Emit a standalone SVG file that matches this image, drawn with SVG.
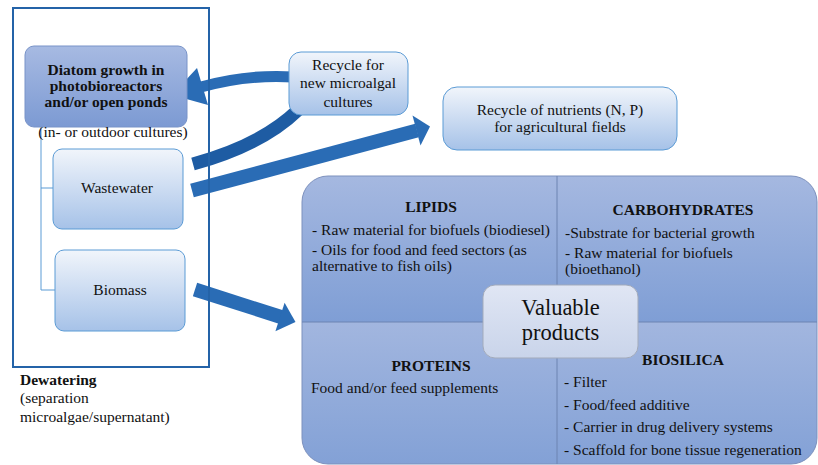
<svg xmlns="http://www.w3.org/2000/svg" width="818" height="465" viewBox="0 0 818 465">
<style>
text{font-family:'Liberation Serif','Times New Roman','DejaVu Serif',serif;font-size:15.5px;fill:#111}
.b{font-weight:bold}
.c{text-anchor:middle}
.lb{fill:url(#gLight);stroke:#5b9bd5;stroke-width:1}
.arr{fill:#2a6cb5}
.band{fill:none;stroke:#2a6cb5}
.div{stroke:#6d84b2;stroke-width:1;fill:none}
</style>
<defs>
<linearGradient id="gLight" x1="0" y1="0" x2="0" y2="1">
<stop offset="0" stop-color="#f1f5fb"/>
<stop offset="1" stop-color="#a6c2e8"/>
</linearGradient>
<linearGradient id="gDiatom" x1="0" y1="0" x2="0" y2="1">
<stop offset="0" stop-color="#a7bae2"/>
<stop offset="1" stop-color="#7c9ad3"/>
</linearGradient>
<linearGradient id="gQuad" x1="0" y1="0" x2="0" y2="1">
<stop offset="0" stop-color="#a5b8e0"/>
<stop offset="1" stop-color="#7f9ed5"/>
</linearGradient>
<linearGradient id="gQuad2" x1="0" y1="0" x2="0" y2="1">
<stop offset="0" stop-color="#a2b6df"/>
<stop offset="1" stop-color="#83a1d6"/>
</linearGradient>
<linearGradient id="gVal" x1="0" y1="0" x2="0" y2="1">
<stop offset="0" stop-color="#e0e6f4"/>
<stop offset="1" stop-color="#c9d4ea"/>
</linearGradient>
<clipPath id="clipProd"><rect x="302" y="176" width="515" height="288" rx="26"/></clipPath>
</defs>

<g id="connectors">
<path class="band" stroke-width="11" d="M201 87 Q247 74 294 77"/>
<polygon class="arr" points="172,95 197,68 208,105"/>
<path fill="none" stroke="#1e5ca3" stroke-width="13" d="M193 164 Q262 145 298 110"/>
<path class="band" stroke-width="14" d="M192 190.5 L417 130.5"/>
<polygon class="arr" points="412.5,115.5 430,126.5 420.5,145.5"/>
<path class="band" stroke-width="14" d="M195 289.5 L281 317"/>
<polygon class="arr" points="284.6,302.7 295.5,322 275.4,331.3"/>
</g>

<g id="frame">
<rect x="13" y="8" width="196" height="359" fill="none" stroke="#2463a8" stroke-width="2"/>
<path d="M41 127 V290 M41 188 H53 M41 290 H55" fill="none" stroke="#5b9bd5" stroke-width="1"/>
</g>

<g id="diatom">
<rect x="25" y="46" width="162" height="81" rx="9" fill="url(#gDiatom)" stroke="#7893c8" stroke-width="1"/>
<text class="b c" x="106" y="75">Diatom growth in</text>
<text class="b c" x="106" y="91">photobioreactors</text>
<text class="b c" x="106" y="107">and/or open ponds</text>
</g>
<g id="culture-label">
<text class="c" x="113" y="137">(in- or outdoor cultures)</text>
</g>

<g id="wastewater">
<rect class="lb" x="53" y="149" width="130" height="80" rx="9"/>
<text class="c" x="117" y="193">Wastewater</text>
</g>

<g id="biomass">
<rect class="lb" x="55" y="250" width="130" height="81" rx="9"/>
<text class="c" x="120" y="295">Biomass</text>
</g>

<g id="recycle-cultures">
<rect class="lb" x="289" y="52" width="119" height="63" rx="12"/>
<text class="c" x="348" y="70">Recycle for</text>
<text class="c" x="348" y="88">new microalgal</text>
<text class="c" x="348" y="107">cultures</text>
</g>

<g id="recycle-nutrients">
<rect class="lb" x="443" y="87" width="234" height="63" rx="14"/>
<text class="c" x="560" y="115">Recycle of nutrients (N, P)</text>
<text class="c" x="560" y="132">for agricultural  fields</text>
</g>

<g id="dewatering">
<text class="b" x="20" y="385">Dewatering</text>
<text x="20" y="403">(separation</text>
<text x="20" y="422">microalgae/supernatant)</text>
</g>

<g id="products">
<g clip-path="url(#clipProd)">
<rect x="302" y="176" width="515" height="146" fill="url(#gQuad)"/>
<rect x="302" y="322" width="515" height="142" fill="url(#gQuad2)"/>
</g>
<rect x="302" y="176" width="515" height="288" rx="26" fill="none" stroke="#7d91bd" stroke-width="1"/>
<path class="div" d="M557 176 V464 M302 322 H817"/>
</g>

<g id="lipids">
<text class="b c" x="431" y="212">LIPIDS</text>
<text x="312" y="235">- Raw material for biofuels (biodiesel)</text>
<text x="312" y="255">- Oils for food and feed sectors (as</text>
<text x="312" y="271">alternative to fish oils)</text>
</g>

<g id="carbohydrates">
<text class="b c" x="683" y="215">CARBOHYDRATES</text>
<text x="565" y="238">-Substrate for bacterial growth</text>
<text x="565" y="258">- Raw material for biofuels</text>
<text x="565" y="274">(bioethanol)</text>
</g>

<g id="proteins">
<text class="b c" x="431" y="371">PROTEINS</text>
<text x="311" y="393">Food and/or feed supplements</text>
</g>

<g id="biosilica">
<text class="b c" x="683" y="365">BIOSILICA</text>
<text x="564" y="387">- Filter</text>
<text x="564" y="410">- Food/feed additive</text>
<text x="564" y="432">- Carrier in drug delivery systems</text>
<text x="564" y="455">- Scaffold for bone tissue regeneration</text>
</g>

<g id="valuable-products">
<rect x="483" y="285" width="155" height="73" rx="12" fill="url(#gVal)" stroke="#a3abbb" stroke-width="1"/>
<text class="c" style="font-size:22.5px" x="560.5" y="315">Valuable</text>
<text class="c" style="font-size:22.5px" x="560.5" y="340">products</text>
</g>
</svg>
